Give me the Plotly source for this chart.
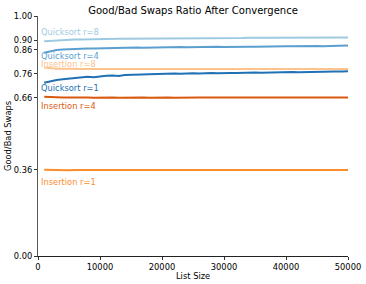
import plotly.graph_objects as go

list_size = [1000, 2000, 3000, 4000, 5000, 6000, 7000, 8000, 9000, 10000,
             11000, 12000, 13000, 14000, 15000, 16000, 17000, 18000, 19000, 20000,
             21000, 22000, 23000, 24000, 25000, 26000, 27000, 28000, 29000, 30000,
             31000, 32000, 33000, 34000, 35000, 36000, 37000, 38000, 39000, 40000,
             41000, 42000, 43000, 44000, 45000, 46000, 47000, 48000, 49000, 50000]

quick_r8 = [0.895, 0.897, 0.899, 0.900, 0.901, 0.902, 0.902, 0.903, 0.903, 0.904,
            0.904, 0.904, 0.905, 0.905, 0.905, 0.906, 0.905, 0.906, 0.906, 0.906,
            0.907, 0.906, 0.907, 0.907, 0.907, 0.907, 0.908, 0.907, 0.908, 0.908,
            0.908, 0.908, 0.908, 0.909, 0.908, 0.909, 0.909, 0.909, 0.909, 0.909,
            0.910, 0.909, 0.910, 0.910, 0.910, 0.910, 0.910, 0.910, 0.911, 0.910]

quick_r4 = [0.847, 0.854, 0.858, 0.860, 0.862, 0.863, 0.864, 0.865, 0.865, 0.866,
            0.867, 0.867, 0.868, 0.867, 0.868, 0.869, 0.868, 0.869, 0.870, 0.869,
            0.870, 0.870, 0.871, 0.870, 0.871, 0.871, 0.870, 0.871, 0.872, 0.871,
            0.872, 0.872, 0.873, 0.872, 0.872, 0.873, 0.874, 0.873, 0.873, 0.874,
            0.874, 0.875, 0.874, 0.875, 0.875, 0.874, 0.875, 0.876, 0.877, 0.877]

ins_r8 = [0.785, 0.781, 0.780, 0.780, 0.779, 0.779, 0.779, 0.779, 0.779, 0.779,
          0.779, 0.779, 0.778, 0.779, 0.779, 0.779, 0.779, 0.778, 0.779, 0.779,
          0.779, 0.779, 0.779, 0.779, 0.779, 0.779, 0.779, 0.779, 0.779, 0.779,
          0.779, 0.779, 0.779, 0.779, 0.779, 0.779, 0.779, 0.779, 0.779, 0.779,
          0.779, 0.779, 0.779, 0.779, 0.779, 0.779, 0.779, 0.779, 0.779, 0.779]

quick_r1 = [0.722, 0.729, 0.733, 0.736, 0.739, 0.743, 0.745, 0.747, 0.745, 0.749,
            0.751, 0.752, 0.750, 0.754, 0.755, 0.756, 0.757, 0.756, 0.758, 0.759,
            0.758, 0.760, 0.759, 0.761, 0.761, 0.760, 0.762, 0.762, 0.761, 0.763,
            0.763, 0.762, 0.764, 0.764, 0.765, 0.764, 0.765, 0.766, 0.765, 0.766,
            0.767, 0.766, 0.767, 0.768, 0.767, 0.768, 0.768, 0.769, 0.769, 0.770]

ins_r4 = [0.664, 0.662, 0.661, 0.660, 0.660, 0.661, 0.660, 0.660, 0.659, 0.660,
          0.660, 0.660, 0.659, 0.660, 0.660, 0.660, 0.660, 0.659, 0.660, 0.660,
          0.660, 0.659, 0.660, 0.660, 0.660, 0.660, 0.660, 0.659, 0.660, 0.660,
          0.660, 0.660, 0.660, 0.659, 0.660, 0.660, 0.660, 0.660, 0.660, 0.659,
          0.660, 0.660, 0.660, 0.660, 0.660, 0.660, 0.659, 0.660, 0.660, 0.660]

ins_r1 = [0.359, 0.358, 0.358, 0.358, 0.357, 0.358, 0.358, 0.358, 0.357, 0.358,
          0.358, 0.358, 0.358, 0.357, 0.358, 0.358, 0.358, 0.358, 0.358, 0.357,
          0.358, 0.358, 0.358, 0.358, 0.358, 0.357, 0.358, 0.358, 0.358, 0.358,
          0.358, 0.358, 0.357, 0.358, 0.358, 0.358, 0.358, 0.358, 0.358, 0.357,
          0.358, 0.358, 0.358, 0.358, 0.358, 0.358, 0.358, 0.357, 0.358, 0.358]

series_names = ["Quicksort r=8", "Quicksort r=4", "Insertion r=8",
                "Quicksort r=1", "Insertion r=4", "Insertion r=1"]
series_values = [quick_r8, quick_r4, ins_r8, quick_r1, ins_r4, ins_r1]
series_colors = ["#9ecae1", "#5a9fd0", "#fdc38d", "#2171b5", "#d9590f", "#fd8d2c"]
label_y = [0.932, 0.832, 0.801, 0.70, 0.625, 0.31]

y_ticks = [0.0, 0.36, 0.66, 0.76, 0.86, 0.90, 1.0]
y_tick_text = ["0.00", "0.36", "0.66", "0.76", "0.86", "0.90", "1.00"]
x_ticks = [0, 10000, 20000, 30000, 40000, 50000]
x_tick_text = ["0", "10000", "20000", "30000", "40000", "50000"]

font = "DejaVu Sans, sans-serif"
fs = 8.3
fig = go.Figure()
for name, vals, col in zip(series_names, series_values, series_colors):
    fig.add_trace(go.Scatter(x=list_size, y=vals, mode="lines", name=name,
                             line=dict(color=col, width=2), showlegend=False))

for name, ly, col in zip(series_names, label_y, series_colors):
    fig.add_annotation(x=0, y=ly, xref="x", yref="y", text=name, showarrow=False,
                       xanchor="left", yanchor="middle", xshift=1,
                       font=dict(family=font, size=fs, color=col))

# axis titles as annotations for exact placement
fig.add_annotation(x=0.5, y=-20/240, xref="paper", yref="paper", text="List Size",
                   showarrow=False, xanchor="center", yanchor="middle",
                   font=dict(family=font, size=fs, color="black"))
fig.add_annotation(x=-30/310, y=0.5, xref="paper", yref="paper", text="Good/Bad Swaps",
                   showarrow=False, xanchor="center", yanchor="middle", textangle=-90,
                   font=dict(family=font, size=fs, color="black"))

fig.update_layout(
    width=366, height=284,
    margin=dict(l=38, r=18, t=16, b=28, autoexpand=False),
    paper_bgcolor="white", plot_bgcolor="white",
    title=dict(text="Good/Bad Swaps Ratio After Convergence", x=0.5, xref="paper",
               xanchor="center", y=1 - 10/284, yref="container", yanchor="middle",
               font=dict(family=font, size=10, color="black")),
    font=dict(family=font, size=fs, color="black"),
)
fig.update_xaxes(range=[0, 50000], tickvals=x_ticks, ticktext=x_tick_text,
                 ticks="outside", ticklen=3, tickcolor="#333", showgrid=False,
                 zeroline=False, showline=True, linecolor="#222", linewidth=1,
                 automargin=False, tickfont=dict(family=font, size=fs))
fig.update_yaxes(range=[0, 1], tickvals=y_ticks, ticktext=y_tick_text, ticks="outside",
                 ticklen=3, tickcolor="#333", showgrid=False, zeroline=False,
                 showline=True, linecolor="#555", linewidth=1, automargin=False,
                 tickfont=dict(family=font, size=fs))

fig.write_html("out.html", config={"displayModeBar": False},
               post_script="document.body.style.margin='0';document.body.style.overflow='hidden';")
